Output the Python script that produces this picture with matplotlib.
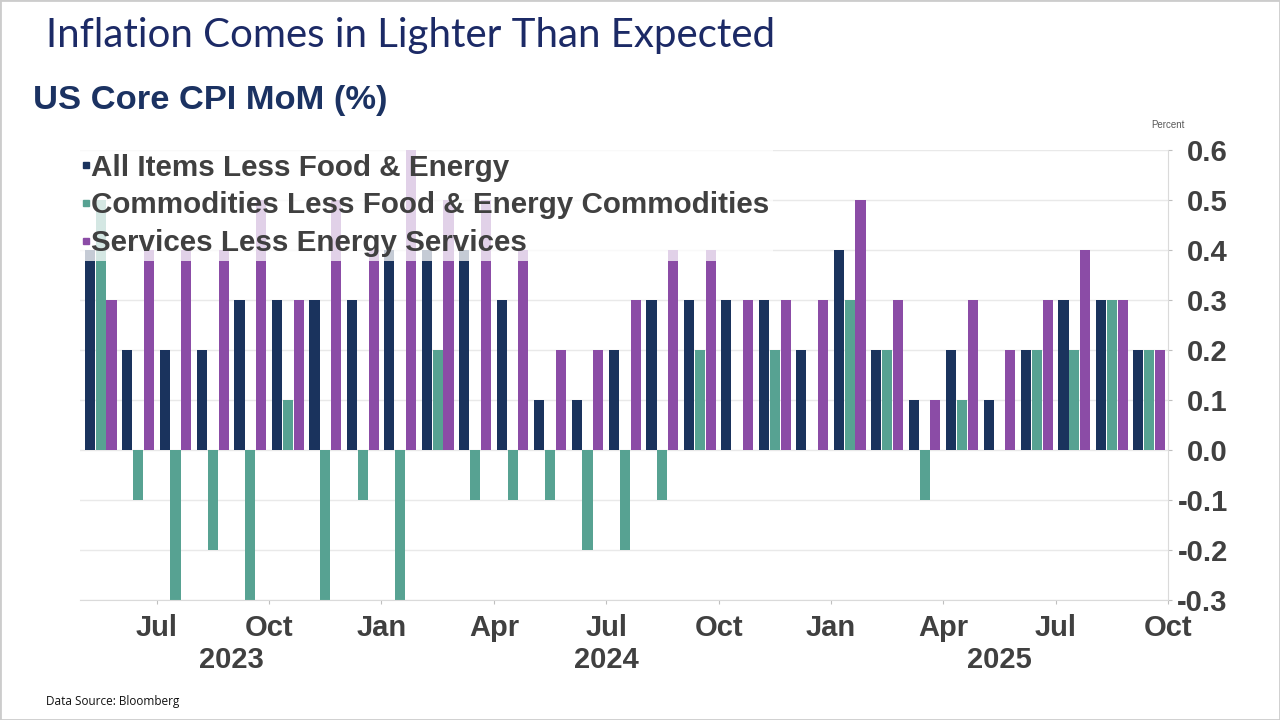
import numpy as np
import matplotlib
matplotlib.use("Agg")
import matplotlib.pyplot as plt
from matplotlib.lines import Line2D
from matplotlib.patches import Rectangle

# monthly data, May 2023 .. Sep 2025
months = ["May 2023", "Jun 2023", "Jul 2023", "Aug 2023", "Sep 2023", "Oct 2023",
          "Nov 2023", "Dec 2023", "Jan 2024", "Feb 2024", "Mar 2024", "Apr 2024",
          "May 2024", "Jun 2024", "Jul 2024", "Aug 2024", "Sep 2024", "Oct 2024",
          "Nov 2024", "Dec 2024", "Jan 2025", "Feb 2025", "Mar 2025", "Apr 2025",
          "May 2025", "Jun 2025", "Jul 2025", "Aug 2025", "Sep 2025"]
core = [0.4, 0.2, 0.2, 0.2, 0.3, 0.3, 0.3, 0.3, 0.4, 0.4, 0.4, 0.3, 0.1, 0.1, 0.2,
        0.3, 0.3, 0.3, 0.3, 0.2, 0.4, 0.2, 0.1, 0.2, 0.1, 0.2, 0.3, 0.3, 0.2]
goods = [0.5, -0.1, -0.3, -0.2, -0.3, 0.1, -0.3, -0.1, -0.3, 0.2, -0.1, -0.1, -0.1, -0.2, -0.2,
         -0.1, 0.2, 0.0, 0.2, 0.0, 0.3, 0.2, -0.1, 0.1, 0.0, 0.2, 0.2, 0.3, 0.2]
services = [0.3, 0.4, 0.4, 0.4, 0.5, 0.3, 0.5, 0.4, 0.6, 0.5, 0.5, 0.4, 0.2, 0.2, 0.3,
            0.4, 0.4, 0.3, 0.3, 0.3, 0.5, 0.3, 0.1, 0.3, 0.2, 0.3, 0.4, 0.3, 0.2]
series_names = ["All Items Less Food & Energy",
                "Commodities Less Food & Energy Commodities",
                "Services Less Energy Services"]

# x tick labels sit on month boundaries
tick_months = ["Jul 2023", "Oct 2023", "Jan 2024", "Apr 2024", "Jul 2024",
               "Oct 2024", "Jan 2025", "Apr 2025", "Jul 2025", "Oct 2025"]
years = ["2023", "2024", "2025"]

NAVY = "#1a335d"
TEAL = "#57a292"
PURPLE = "#8b4ca6"
GRAY_TXT = "#404040"
colors = [NAVY, TEAL, PURPLE]

fig = plt.figure(figsize=(12.8, 7.2), dpi=100)
fig.patch.set_facecolor("white")
ax = fig.add_axes([80 / 1280, 120 / 720, 1088 / 1280, 450 / 720])

x = np.arange(len(months))
w = 0.27
off = 0.29
for vals, c, k in zip([core, goods, services], colors, [-1, 0, 1]):
    ax.bar(x + k * off, vals, w, color=c, zorder=2)

ax.set_xlim(-0.55, len(months) - 0.5)
ax.set_ylim(-0.3, 0.6)

# y axis on the right
ax.yaxis.tick_right()
yt = np.round(np.arange(-0.3, 0.61, 0.1), 1)
ax.set_yticks(yt)
ax.set_yticklabels([f"{v:.1f}" for v in yt])
ax.tick_params(axis="y", labelsize=21, labelcolor=GRAY_TXT, color="#bfbfbf",
               length=3, pad=40)
for lab in ax.get_yticklabels():
    lab.set_horizontalalignment("right")
    lab.set_fontweight("bold")
    lab.set_family("Liberation Sans")

# x ticks at month starts
all_idx = {m: i for i, m in enumerate(months)}
tick_pos = [all_idx.get(m, len(months)) - 0.5 for m in tick_months]
ax.set_xticks(tick_pos)
ax.set_xticklabels([m.split()[0] for m in tick_months])
ax.tick_params(axis="x", labelsize=21, labelcolor=GRAY_TXT, color="#bfbfbf",
               length=3, pad=7)
for lab in ax.get_xticklabels():
    lab.set_fontweight("bold")
    lab.set_family("Liberation Sans")

# year labels centred under each year's span
year_pos = [(-0.5 + 7.5) / 2, 13.5, (19.5 + 28.5) / 2]
for yp, yr in zip(year_pos, years):
    ax.text(yp, -0.133, yr, transform=ax.get_xaxis_transform(), ha="center",
            va="center", fontsize=21, fontweight="bold", color=GRAY_TXT,
            family="Liberation Sans")

ax.yaxis.grid(True, color="#e9e9e9", lw=1)
ax.set_axisbelow(True)
for s in ["top", "left"]:
    ax.spines[s].set_visible(False)
ax.spines["right"].set_color("#dadada")
ax.spines["bottom"].set_color("#dadada")

# legend with a translucent white box over the bars
handles = [Line2D([], [], marker="s", ls="none", markersize=5, color=c) for c in colors]
leg = ax.legend(handles, series_names, loc="upper left", bbox_to_anchor=(-0.001, 1.0),
                borderaxespad=0, borderpad=0.12, handlelength=0.25, handletextpad=0.05,
                labelspacing=0.33, frameon=True, fancybox=False, framealpha=0.75,
                edgecolor="none", facecolor="white",
                prop={"family": "Liberation Sans", "weight": "bold", "size": 21.3})
for t in leg.get_texts():
    t.set_color(GRAY_TXT)
leg.set_zorder(5)

fig.text(1168 / 1280, 1 - 125 / 720, "Percent", ha="center", va="center",
         fontsize=7, color="#595959", family="Liberation Sans")

fig.text(46 / 1280, 1 - 47 / 720, "Inflation Comes in Lighter Than Expected",
         ha="left", va="baseline", fontsize=29, color="#1c2a66",
         family="Lato", fontweight="normal")
fig.text(33 / 1280, 1 - 101 / 720, "US Core CPI MoM (%)", ha="left", va="center",
         fontsize=24.8, color="#1b3262", family="Liberation Sans", fontweight="bold")
fig.text(46 / 1280, 1 - 701 / 720, "Data Source: Bloomberg", ha="left", va="center",
         fontsize=8.5, color="#111111", family="Open Sans")

fig.patches.append(Rectangle((0, 0), 1, 1, transform=fig.transFigure, fill=False,
                             edgecolor="#cccccc", lw=2))

fig.savefig("out.png", dpi=100)
